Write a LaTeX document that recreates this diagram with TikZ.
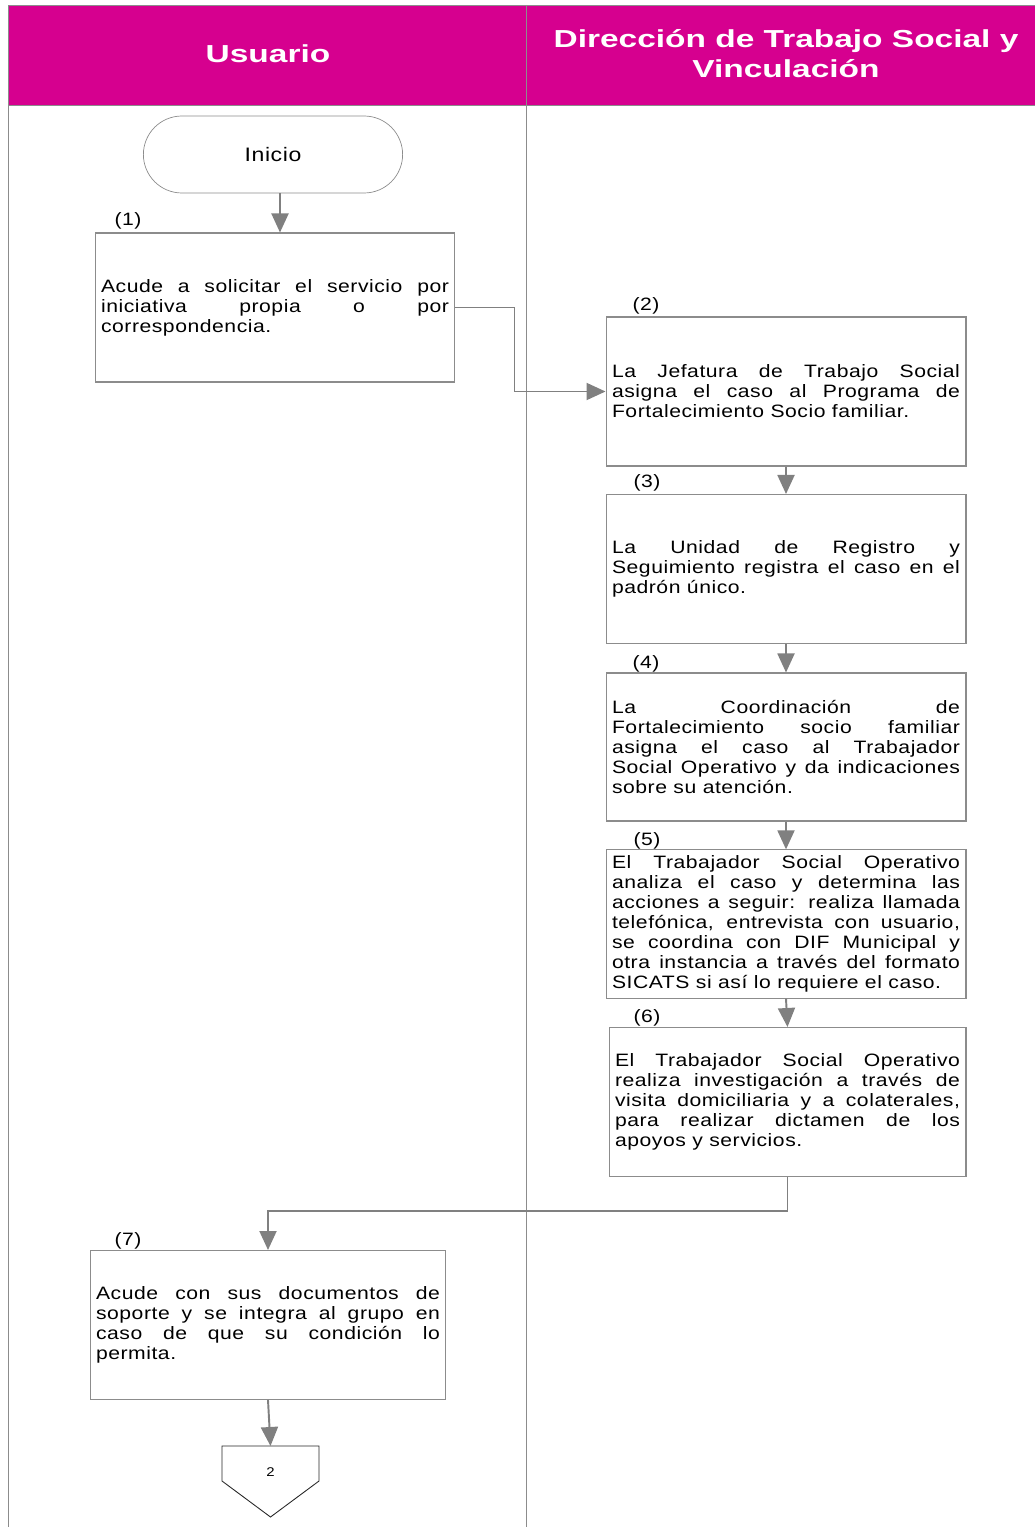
\documentclass[tikz,border=0pt]{standalone}
\usepackage{fontspec}
\setmainfont{Liberation Sans}
\newfontfamily\textofont[FakeStretch=1.18,LetterSpace=3]{Liberation Sans}
\newfontfamily\anchafont[FakeStretch=1.36]{Liberation Sans}
\usetikzlibrary{arrows.meta,shapes.misc}
\definecolor{encabezado}{HTML}{D6008F}
\definecolor{linea}{HTML}{808080}
\definecolor{borde}{HTML}{8C8C8C}
\hyphenpenalty=10000
\tolerance=10000

\tikzset{
  paso/.style={draw=borde,line width=0.6pt,text width=6.96cm,inner sep=0.12cm,minimum height=2.98cm,align=justify,font=\textofont\fontsize{10.2}{11.34}\selectfont},
  num/.style={font=\textofont\fontsize{10.2}{11.34}\selectfont,inner sep=0},
  flecha/.style={draw=linea,line width=1.1pt,-{Triangle[length=0.38cm,width=0.34cm]}},
  titulo/.style={text=white,font=\anchafont\bfseries\fontsize{14}{17}\selectfont,align=center}
}

\begin{document}
\begin{tikzpicture}[x=0.02cm,y=-0.02cm]
\useasboundingbox (0,0) rectangle (1035,1527);
% Encabezados de carriles
\fill[encabezado] (8,5) rectangle (1035,105);
\draw[borde] (8,1527) -- (8,5) -- (1035,5);
\draw[borde] (8,105) -- (1035,105);
\draw[borde] (526,5) -- (526,1527);
\node[titulo] (usr) at (268,54) {Usuario};
\node[titulo] (dir) at (786,54) {Dirección de Trabajo Social y\\Vinculación};

% Inicio
\node[draw=borde,rounded rectangle,minimum width=5.42cm,minimum height=1.54cm,font=\textofont\fontsize{11.1}{12}\selectfont] (ini) at (273,154.5) {Inicio};

% Pasos
\node[paso] (b1) at (275,307.5) {Acude a solicitar el servicio por\linebreak iniciativa propia o por\linebreak correspondencia.};
\node[paso] (b2) at (786,391.5) {La Jefatura de Trabajo Social\linebreak asigna el caso al Programa de\linebreak Fortalecimiento Socio familiar.};
\node[paso] (b3) at (786,569) {La Unidad de Registro y\linebreak Seguimiento registra el caso en el\linebreak padrón único.};
\node[paso,minimum height=2.96cm] (b4) at (786,747) {La Coordinación de\linebreak Fortalecimiento socio familiar\linebreak asigna el caso al Trabajador\linebreak Social Operativo y da indicaciones\linebreak sobre su atención.};
\node[paso,minimum height=2.96cm] (b5) at (786,924) {El Trabajador Social Operativo\linebreak analiza el caso y determina las\linebreak acciones a seguir: realiza llamada\linebreak telefónica, entrevista con usuario,\linebreak se coordina con DIF Municipal y\linebreak otra instancia a través del formato\linebreak SICATS si así lo requiere el caso.};
\node[paso,text width=6.9cm] (b6) at (787.5,1102) {El Trabajador Social Operativo\linebreak realiza investigación a través de\linebreak visita domiciliaria y a colaterales,\linebreak para realizar dictamen de los\linebreak apoyos y servicios.};
\node[paso,text width=6.88cm] (b7) at (268,1325) {Acude con sus documentos de\linebreak soporte y se integra al grupo en\linebreak caso de que su condición lo\linebreak permita.};
\foreach \n/\x/\y in {1/128/221, 2/646/306, 3/647/483, 4/646/664, 5/647/841, 6/647/1018, 7/128/1241}
  \node[num] (n\n) at (\x,\y) {(\n)};

% Conector de pagina
\node[font=\textofont\fontsize{7.2}{8}\selectfont,inner sep=0] (pag) at (270.5,1472) {2};
\draw[black!85,line width=0.5pt] (222,1446) -- (319,1446) -- (319,1481) -- (270.5,1517) -- (222,1481) -- cycle;
\coordinate (pagtop) at (270.5,1446);

% Flechas
\draw[flecha] ([xshift=0.1cm]b1.north |- ini.south) -- ([xshift=0.1cm]b1.north);
\draw[flecha] (b1.east) -- ++(1.18cm,0) |- (b2.west);
\foreach \a/\b in {b2/b3,b3/b4,b4/b5,b5/b6}
  \draw[flecha] (\a.south) -- (\b.north);
\draw[flecha] (b6.south) -- ++(0,34) -| (b7.north);
\draw[flecha] (b7.south) -- (pagtop);
\end{tikzpicture}
\end{document}
